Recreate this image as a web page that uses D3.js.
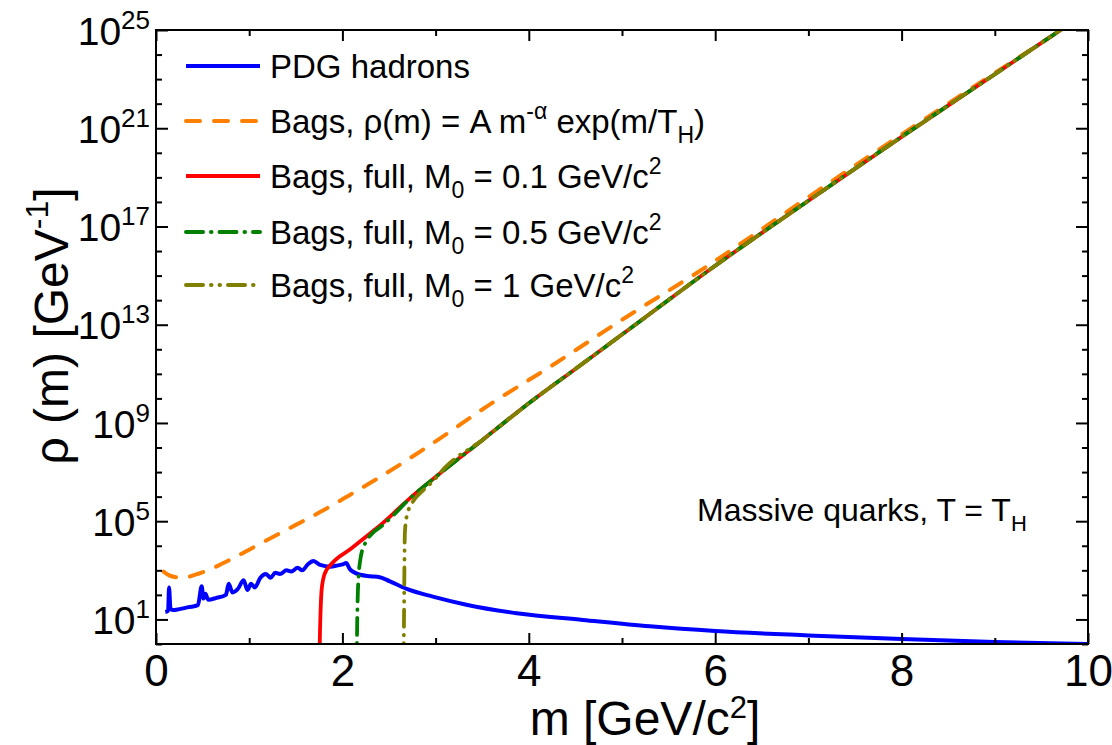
<!DOCTYPE html>
<html>
<head>
<meta charset="utf-8">
<script src="https://cdn.jsdelivr.net/npm/d3@7"></script>
<style>
  body { margin: 0; background: #fff; }
  svg { font-family: "Liberation Sans", Arial, sans-serif; }
</style>
</head>
<body>
<svg width="1112" height="745"></svg>
<script>
// values: mass in GeV/c^2, density as log10(rho)
const pdgMass = [0.10, 0.13, 0.14, 0.155, 0.18, 0.25, 0.35, 0.45, 0.49, 0.51, 0.53, 0.56, 0.65, 0.75, 0.78, 0.82, 0.88, 0.94, 0.98, 1.02, 1.06, 1.12, 1.18, 1.23, 1.28, 1.33, 1.40, 1.45, 1.52, 1.57, 1.63, 1.69, 1.76, 1.87, 1.95, 2.01, 2.04, 2.08, 2.19, 2.30, 2.40, 2.51, 2.72, 2.97, 3.33, 3.87, 4.58, 5.30, 6.0, 7.0, 8.0, 9.0, 10.0];
const pdgLog  = [1.30, 1.35, 2.30, 1.45, 1.38, 1.42, 1.50, 1.58, 2.35, 1.85, 2.05, 1.80, 1.88, 2.00, 2.45, 2.10, 2.25, 2.60, 2.20, 2.45, 2.30, 2.70, 2.85, 2.70, 2.90, 2.85, 3.00, 2.95, 3.10, 3.00, 3.25, 3.38, 3.22, 3.15, 3.20, 3.25, 3.30, 3.05, 2.82, 2.76, 2.72, 2.55, 2.20, 1.93, 1.60, 1.25, 0.98, 0.72, 0.53, 0.35, 0.20, 0.08, 0.0];

const fitMass = [0.08, 0.15, 0.28, 0.47, 0.83, 1.15, 1.50, 1.76, 2.08, 2.37, 3.0, 3.6, 4.2, 5.0, 5.9, 7.0, 8.0, 9.0, 10.0];
const fitLog  = [2.95, 2.78, 2.70, 2.88, 3.50, 4.15, 4.85, 5.37, 6.07, 6.72, 8.25, 9.80, 11.22, 13.2, 15.35, 18.2, 20.75, 23.25, 25.7];

const m01Mass = [1.752, 1.760, 1.765, 1.777, 1.812, 1.89, 2.08, 2.33, 2.42, 2.60, 2.70, 3.0, 3.5, 4.0, 4.5, 5.0, 6.0, 7.0, 8.0, 9.0, 10.0];
const m01Log  = [-1.0, 0.6, 1.25, 2.20, 2.88, 3.29, 3.85, 4.60, 4.88, 5.50, 5.85, 6.80, 8.30, 9.80, 11.2, 12.6, 15.4, 18.05, 20.65, 23.2, 25.75];

const m05Mass = [2.153, 2.160, 2.165, 2.175, 2.195, 2.25, 2.32, 2.42, 2.55, 2.70, 3.0, 3.5, 4.0, 4.5, 5.0, 6.0, 7.0, 8.0, 9.0, 10.0];
const m05Log  = [-1.0, 1.2, 2.0, 2.80, 3.50, 4.15, 4.50, 4.80, 5.25, 5.84, 6.80, 8.30, 9.80, 11.2, 12.6, 15.4, 18.05, 20.65, 23.2, 25.75];

const m1Mass = [2.655, 2.662, 2.665, 2.670, 2.690, 2.75, 2.85, 2.97, 3.1, 3.5, 4.0, 4.5, 5.0, 6.0, 7.0, 8.0, 9.0, 10.0];
const m1Log  = [-1.0, 1.5, 3.0, 4.50, 5.20, 5.75, 6.20, 6.62, 7.18, 8.30, 9.80, 11.2, 12.6, 15.4, 18.05, 20.65, 23.2, 25.75];

const xMajor = [0, 2, 4, 6, 8, 10];
const xMinor = [1, 3, 5, 7, 9];
const yMajorExp = [1, 5, 9, 13, 17, 21, 25];
const yMinorExp = [0, 2, 3, 4, 6, 7, 8, 10, 11, 12, 14, 15, 16, 18, 19, 20, 22, 23, 24];

const svg = d3.select("svg");
const pLeft = 156, pRight = 1088, pTop = 30, pBottom = 644;

const x = d3.scaleLinear().domain([0, 10]).range([pLeft, pRight]);
const y = d3.scaleLog().domain([1, 1e25]).range([pBottom, pTop]);

svg.append("defs").append("clipPath").attr("id", "plot")
  .append("rect").attr("x", pLeft).attr("y", pTop)
  .attr("width", pRight - pLeft).attr("height", pBottom - pTop);

// line styles
const dashFit = "14,14", dashDot = "17,8,0.5,8", dashDotDot = "17,8,0.5,8,0.5,8";

// curves
const series = [
  { mass: pdgMass, logv: pdgLog, color: "#0000ff", dash: null, w: 4 },
  { mass: fitMass, logv: fitLog, color: "#ff8000", dash: dashFit, w: 4 },
  { mass: m01Mass, logv: m01Log, color: "#ff0000", dash: null, w: 3.8 },
  { mass: m05Mass, logv: m05Log, color: "#008000", dash: dashDot, w: 3.8 },
  { mass: m1Mass, logv: m1Log, color: "#808000", dash: dashDotDot, w: 3.8 }
];

const line = d3.line()
  .x(d => x(d[0]))
  .y(d => y(Math.pow(10, d[1])))
  .curve(d3.curveMonotoneX);

const plot = svg.append("g").attr("clip-path", "url(#plot)");
series.forEach(s => {
  plot.append("path")
    .datum(s.mass.map((m, i) => [m, s.logv[i]]))
    .attr("d", line)
    .attr("fill", "none")
    .attr("stroke", s.color)
    .attr("stroke-width", s.w)
    .attr("stroke-linecap", s.dash ? "round" : "butt")
    .attr("stroke-linejoin", "round")
    .attr("stroke-dasharray", s.dash);
});

// axes
function tidy(g) {
  g.select(".domain").remove();
  g.selectAll(".tick line").attr("stroke", "#000").attr("stroke-width", 2);
}

svg.append("g").attr("transform", `translate(0,${pBottom})`)
  .call(d3.axisBottom(x).tickValues(xMajor).tickSizeInner(-11).tickPadding(11).tickFormat(d3.format("d")))
  .call(tidy)
  .call(g => g.selectAll("text").attr("font-size", 44).attr("fill", "#000")
    .attr("font-family", "Liberation Sans, Arial, sans-serif"));
svg.append("g").attr("transform", `translate(0,${pBottom})`)
  .call(d3.axisBottom(x).tickValues(xMinor).tickSizeInner(-6).tickFormat(""))
  .call(tidy);
svg.append("g").attr("transform", `translate(0,${pTop})`)
  .call(d3.axisTop(x).tickValues(xMajor).tickSizeInner(-11).tickFormat(""))
  .call(tidy);
svg.append("g").attr("transform", `translate(0,${pTop})`)
  .call(d3.axisTop(x).tickValues(xMinor).tickSizeInner(-6).tickFormat(""))
  .call(tidy);

svg.append("g").attr("transform", `translate(${pLeft},0)`)
  .call(d3.axisLeft(y).tickValues(yMajorExp.map(e => Math.pow(10, e))).tickSizeInner(-12).tickPadding(6).tickFormat(""))
  .call(tidy)
  .call(g => g.selectAll(".tick text").each(function(d) {
    const t = d3.select(this)
      .attr("font-size", 39).attr("fill", "#000").attr("dy", "0.36em")
      .attr("font-family", "Liberation Sans, Arial, sans-serif");
    t.append("tspan").text("10");
    t.append("tspan").attr("font-size", 26).attr("dy", -16)
      .text(Math.round(Math.log10(d)));
  }));
svg.append("g").attr("transform", `translate(${pLeft},0)`)
  .call(d3.axisLeft(y).tickValues(yMinorExp.map(e => Math.pow(10, e))).tickSizeInner(-6).tickFormat(""))
  .call(tidy);
svg.append("g").attr("transform", `translate(${pRight},0)`)
  .call(d3.axisRight(y).tickValues(yMajorExp.map(e => Math.pow(10, e))).tickSizeInner(-12).tickFormat(""))
  .call(tidy);
svg.append("g").attr("transform", `translate(${pRight},0)`)
  .call(d3.axisRight(y).tickValues(yMinorExp.map(e => Math.pow(10, e))).tickSizeInner(-6).tickFormat(""))
  .call(tidy);

svg.append("rect")
  .attr("x", pLeft).attr("y", pTop)
  .attr("width", pRight - pLeft).attr("height", pBottom - pTop)
  .attr("fill", "none").attr("stroke", "#000").attr("stroke-width", 2);

// axis titles
const xt = svg.append("text").attr("x", 645).attr("y", 735)
  .attr("text-anchor", "middle").attr("font-size", 48);
xt.append("tspan").text("m [GeV/c");
xt.append("tspan").attr("font-size", 31).attr("dy", -17).text("2");
xt.append("tspan").attr("dy", 17).text("]");

const yt = svg.append("text")
  .attr("transform", "translate(68,326) rotate(-90)")
  .attr("text-anchor", "middle").attr("font-size", 48);
yt.append("tspan").text("\u03c1 (m) [GeV");
yt.append("tspan").attr("font-size", 32).attr("dy", -20).text("-1");
yt.append("tspan").attr("dy", 20).text("]");

// legend
const legend = [
  { color: "#0000ff", dash: null, parts: [["PDG hadrons", 0]] },
  { color: "#ff8000", dash: dashFit, parts: [["Bags, \u03c1(m) = A m", 0], ["-\u03b1", -1], [" exp(m/T", 0], ["H", 1], [")", 0]] },
  { color: "#ff0000", dash: null, parts: [["Bags, full, M", 0], ["0", 1], [" = 0.1 GeV/c", 0], ["2", -1]] },
  { color: "#008000", dash: dashDot, parts: [["Bags, full, M", 0], ["0", 1], [" = 0.5 GeV/c", 0], ["2", -1]] },
  { color: "#808000", dash: dashDotDot, parts: [["Bags, full, M", 0], ["0", 1], [" = 1 GeV/c", 0], ["2", -1]] }
];
const rowY = [78, 133, 188, 244, 297];

function richText(t, parts, big, small) {
  let shift = 0;
  parts.forEach(([s, kind]) => {
    const target = kind === 1 ? 10 : kind === -1 ? -14 : 0;
    t.append("tspan")
      .attr("font-size", kind === 0 ? big : small)
      .attr("dy", target - shift)
      .text(s);
    shift = target;
  });
}

legend.forEach((l, i) => {
  svg.append("line")
    .attr("x1", 186).attr("x2", 260)
    .attr("y1", rowY[i] - 12).attr("y2", rowY[i] - 12)
    .attr("stroke", l.color).attr("stroke-width", 4)
    .attr("stroke-linecap", l.dash ? "round" : "butt")
    .attr("stroke-dasharray", l.dash);
  const t = svg.append("text").attr("x", 270).attr("y", rowY[i]).attr("font-size", 33);
  richText(t, l.parts, 33, 23);
});

// annotation
const note = svg.append("text").attr("x", 697).attr("y", 521).attr("font-size", 32);
richText(note, [["Massive quarks, T = T", 0], ["H", 1]], 32, 22);
</script>
</body>
</html>
